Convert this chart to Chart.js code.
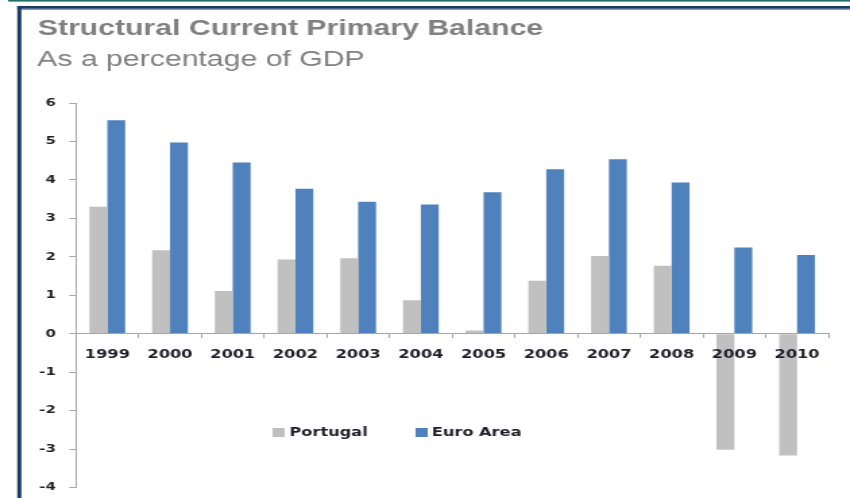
<!DOCTYPE html>
<html>
<head>
<meta charset="utf-8">
<title>Structural Current Primary Balance</title>
<script src="https://cdn.jsdelivr.net/npm/chart.js@4/dist/chart.umd.min.js"></script>
<style>
  html, body { margin: 0; padding: 0; background: #ffffff; }
</style>
</head>
<body>
<!-- The drawing surface is laid out narrower and widened on screen, giving the wide lettering of the original report graphic. -->
<canvas id="chart" width="630" height="498" style="display:block;width:850px;height:498px;"></canvas>
<script>
// Years on the category axis
const years = ['1999', '2000', '2001', '2002', '2003', '2004', '2005', '2006', '2007', '2008', '2009', '2010'];

// Structural current primary balance, % of GDP
const portugal = [3.30, 2.17, 1.11, 1.93, 1.96, 0.87, 0.08, 1.38, 2.02, 1.77, -3.02, -3.17];
const euroArea = [5.55, 4.97, 4.45, 3.77, 3.43, 3.36, 3.68, 4.28, 4.54, 3.93, 2.24, 2.05];

// Value axis range
const yMin = -4;
const yMax = 6;
const yStep = 1;

const titleText = 'Structural Current Primary Balance';
const subtitleText = 'As a percentage of GDP';
const seriesNames = ['Portugal', 'Euro Area'];

const axisGray = '#a6a6a6';
const labelInk = '#1e1e2a';

// White page with the report's frame rules and the heading
const framePlugin = {
  id: 'frame',
  beforeDraw(chart) {
    const ctx = chart.ctx;
    const w = chart.width, h = chart.height;
    ctx.save();
    ctx.fillStyle = '#ffffff';
    ctx.fillRect(0, 0, w, h);
    // teal rule along the very top
    ctx.fillStyle = '#1d6f6c';
    ctx.fillRect(6, 0, w - 6, 1.6);
    // navy frame: top rule and left rule
    ctx.fillStyle = '#1b3a66';
    ctx.fillRect(12.8, 6, w - 12.8, 2.8);
    ctx.fillStyle = '#7f9cc6';
    ctx.fillRect(15.8, 8.8, w - 15.8, 1.2);
    ctx.fillStyle = '#1b3a66';
    ctx.fillRect(12.8, 6, 3, h - 6);
    // heading
    ctx.fillStyle = '#808080';
    ctx.textBaseline = 'alphabetic';
    ctx.textAlign = 'left';
    ctx.font = 'bold 22.4px "Liberation Sans", Arial, sans-serif';
    ctx.fillText(titleText, 28, 35);
    ctx.font = '22.4px "Liberation Sans", Arial, sans-serif';
    ctx.fillText(subtitleText, 27.6, 66);
    ctx.restore();
  }
};

// Key drawn inside the lower part of the plot
const keyPlugin = {
  id: 'key',
  afterDraw(chart) {
    const ctx = chart.ctx;
    const entries = [
      { box: 202, text: 214.5 },
      { box: 308, text: 320 }
    ];
    ctx.save();
    ctx.font = 'bold 12px "DejaVu Sans", sans-serif';
    ctx.textBaseline = 'middle';
    ctx.textAlign = 'left';
    chart.data.datasets.forEach((ds, i) => {
      const e = entries[i];
      ctx.fillStyle = ds.backgroundColor;
      ctx.fillRect(e.box, 428, 9, 9);
      ctx.fillStyle = labelInk;
      ctx.fillText(ds.label, e.text, 433);
    });
    ctx.restore();
  }
};

new Chart(document.getElementById('chart'), {
  type: 'bar',
  data: {
    labels: years,
    datasets: [
      { label: seriesNames[0], data: portugal, backgroundColor: '#c0c0c0' },
      { label: seriesNames[1], data: euroArea, backgroundColor: '#4f81bd' }
    ]
  },
  options: {
    responsive: false,
    animation: false,
    devicePixelRatio: 1,
    layout: { padding: { top: 103, right: 16, bottom: 10.5, left: 0 } },
    datasets: {
      bar: { categoryPercentage: 0.57, barPercentage: 1.0 }
    },
    plugins: {
      legend: { display: false },
      title: { display: false },
      tooltip: { enabled: false }
    },
    scales: {
      x: {
        position: { y: 0 },
        grid: {
          offset: true,
          drawOnChartArea: false,
          drawTicks: true,
          tickLength: 4,
          color: axisGray,
          z: 1
        },
        border: { display: true, color: axisGray, width: 1, z: 1 },
        ticks: {
          z: 1,
          color: labelInk,
          padding: 9.5,
          maxRotation: 0,
          autoSkip: false,
          font: { family: '"DejaVu Sans", sans-serif', size: 12, weight: 'bold' }
        }
      },
      y: {
        min: yMin,
        max: yMax,
        afterFit(scale) {
          // fixed axis gutter; end labels may overhang the plot edges
          scale.width = 56.3;
          scale.paddingTop = 0;
          scale.paddingBottom = 0;
        },
        grid: {
          drawOnChartArea: false,
          drawTicks: true,
          tickLength: 5,
          color: axisGray
        },
        border: { display: true, color: axisGray, width: 1 },
        ticks: {
          stepSize: yStep,
          color: labelInk,
          padding: 10,
          font: { family: '"DejaVu Sans", sans-serif', size: 11, weight: 'bold' }
        }
      }
    }
  },
  plugins: [framePlugin, keyPlugin]
});
</script>
</body>
</html>
